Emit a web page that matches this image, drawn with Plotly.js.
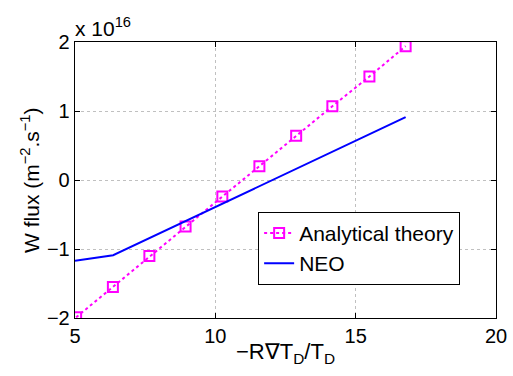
<!DOCTYPE html>
<html>
<head>
<meta charset="utf-8">
<script src="https://cdn.plot.ly/plotly-3.0.1.min.js"></script>
<style>html,body{margin:0;padding:0;background:#fff;}#chart{width:513px;height:376px;}</style>
</head>
<body>
<div id="chart"></div>
<script>
// Values of W flux in units of 1e16 m^-2.s^-1
const analyticalX = [5.04, 6.35, 7.65, 8.94, 10.25, 11.57, 12.88, 14.17, 15.49, 16.78];
const analyticalY = [-1.99, -1.55, -1.10, -0.675, -0.24, 0.20, 0.64, 1.07, 1.50, 1.94];
const neoX = [5.0, 6.36, 16.78];
const neoY = [-1.17, -1.09, 0.91];
const xTicks = [5, 10, 15, 20];
const yTicks = [-2, -1, 0, 1, 2];
const seriesNames = ["Analytical theory", "NEO"];

const FONT = "Liberation Sans, Arial, Helvetica, sans-serif";

const traces = [
  {
    x: analyticalX, y: analyticalY, name: seriesNames[0],
    mode: "lines+markers",
    line: {color: "#ff00ff", width: 2, dash: "dot"},
    marker: {symbol: "square-open", size: 10, color: "#ff00ff", line: {color: "#ff00ff", width: 2}}
  },
  {
    x: neoX, y: neoY, name: seriesNames[1],
    mode: "lines",
    line: {color: "#0000ff", width: 2}
  }
];

const axisCommon = {
  showline: true, linecolor: "#000", linewidth: 1.3, mirror: "ticks",
  ticks: "inside", ticklen: 5, tickcolor: "#000", tickwidth: 1,
  showgrid: true, gridcolor: "#c0c0c0", gridwidth: 1, griddash: "dot",
  zeroline: false,
  tickfont: {family: FONT, size: 20, color: "#000"}
};

const layout = {
  width: 513, height: 376,
  margin: {l: 75, r: 17, t: 42, b: 58},
  paper_bgcolor: "#fff", plot_bgcolor: "#fff",
  showlegend: true,
  font: {family: FONT, color: "#000"},
  xaxis: Object.assign({}, axisCommon, {range: [5, 20], tickvals: xTicks, ticktext: xTicks.map(String)}),
  yaxis: Object.assign({}, axisCommon, {range: [-2, 2], tickvals: yTicks}),
  legend: {
    x: 0.435, y: 0.385, xanchor: "left", yanchor: "top",
    bgcolor: "#fff", bordercolor: "#000", borderwidth: 1,
    font: {family: FONT, size: 21, color: "#000"},
    tracegroupgap: 0
  },
  annotations: [
    {text: "x 10<sup>16</sup>", xref: "paper", yref: "paper", x: -0.005, y: 1, xanchor: "left", yanchor: "bottom",
     showarrow: false, font: {family: FONT, size: 21, color: "#000"}},
    {text: "W flux (m<sup>\u22122</sup>.s<sup>\u22121</sup>)", xref: "paper", yref: "paper", x: -0.107, y: 0.5,
     xanchor: "center", yanchor: "middle", textangle: -90, showarrow: false,
     font: {family: FONT, size: 21, color: "#000"}},
    {text: "\u2212R\u2207T<sub>D</sub>/T<sub>D</sub>", xref: "paper", yref: "paper", x: 0.5, y: -0.068,
     xanchor: "center", yanchor: "top", showarrow: false,
     font: {family: FONT, size: 22, color: "#000"}}
  ]
};

Plotly.newPlot("chart", traces, layout, {displayModeBar: false, staticPlot: true});
</script>
</body>
</html>
